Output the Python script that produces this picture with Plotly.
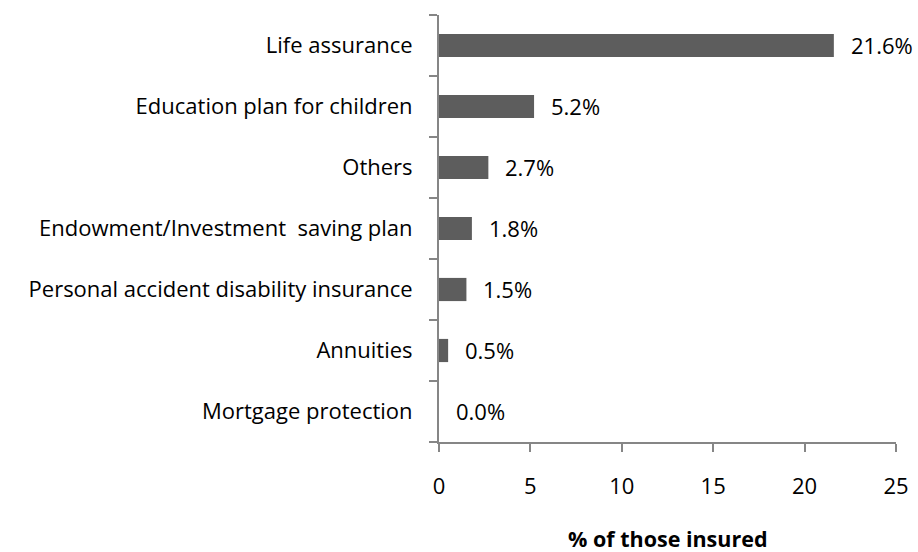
import plotly.graph_objects as go

# Insurance product types held, share of those insured (%)
categories = [
    "Mortgage protection",
    "Annuities",
    "Personal accident disability insurance",
    "Endowment/Investment  saving plan",
    "Others",
    "Education plan for children",
    "Life assurance",
]
values = [0.0, 0.5, 1.5, 1.8, 2.7, 5.2, 21.6]
x_ticks = [0, 5, 10, 15, 20, 25]
x_title = "% of those insured"

FONT = "Open Sans, sans-serif"
FS = 22
AXIS_COLOR = "#868686"
BAR_COLOR = "#5d5d5d"

fig = go.Figure(
    go.Bar(
        x=values,
        y=categories,
        orientation="h",
        marker=dict(color=BAR_COLOR, line=dict(width=0)),
        width=0.38,
        showlegend=False,
    )
)

# value labels placed just right of each bar end
for cat, v in zip(categories, values):
    fig.add_annotation(
        x=v, y=cat, text=f"{v:.1f}%", showarrow=False,
        xanchor="left", xshift=15, yshift=1,
        font=dict(family=FONT, size=FS, color="#000000"),
    )

# x-axis title, set below the tick labels
fig.add_annotation(
    x=0.5, y=0, xref="paper", yref="paper", text=f"<b>{x_title}</b>",
    showarrow=False, xanchor="center", yanchor="middle", yshift=-96,
    font=dict(family=FONT, size=21.5, color="#000000"),
)

fig.update_layout(
    width=918, height=552,
    margin=dict(l=439, r=22, t=15, b=110),
    paper_bgcolor="white", plot_bgcolor="white",
    font=dict(family=FONT, size=FS, color="#000000"),
    bargap=0.62,
)

fig.update_xaxes(
    range=[0, 25], tickvals=x_ticks, ticktext=[str(t) for t in x_ticks],
    showgrid=False, zeroline=False, automargin=False,
    showline=True, linecolor=AXIS_COLOR, linewidth=2,
    ticks="outside", ticklen=8, tickwidth=2, tickcolor=AXIS_COLOR,
    ticklabelstandoff=16,
)
fig.update_yaxes(
    showgrid=False, zeroline=False, automargin=False,
    showline=True, linecolor=AXIS_COLOR, linewidth=2,
    ticks="outside", ticklen=8, tickwidth=2, tickcolor=AXIS_COLOR,
    tickson="boundaries", ticklabelstandoff=20,
)

fig.write_html("out.html")
